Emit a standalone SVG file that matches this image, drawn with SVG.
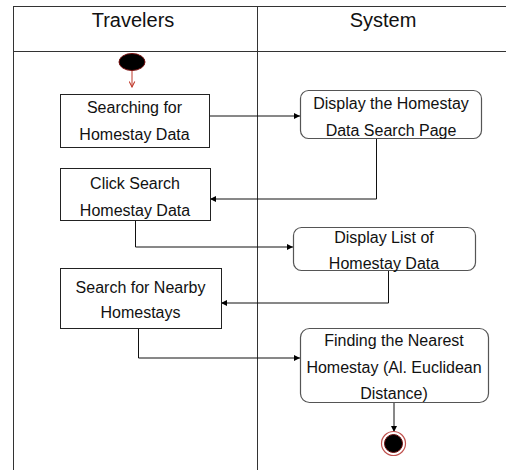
<svg xmlns="http://www.w3.org/2000/svg" width="506" height="470" viewBox="0 0 506 470">
  <defs>
    <marker id="arrow" viewBox="0 0 10 10" refX="10" refY="5" markerWidth="6" markerHeight="6" markerUnits="userSpaceOnUse" orient="auto">
      <path d="M0,0 L10,5 L0,10 z" fill="#000"/>
    </marker>
    <marker id="arrow-open" viewBox="0 0 10 10" refX="9" refY="5" markerWidth="7" markerHeight="7" markerUnits="userSpaceOnUse" orient="auto">
      <path d="M1,1 L9,5 L1,9" fill="none" stroke="#c0392b" stroke-width="1.5"/>
    </marker>
    <style>
      .lane { stroke: #333; stroke-width: 1; fill: none; }
      .head { font-family: "Liberation Sans", Arial, sans-serif; font-size: 20px; fill: #111; text-anchor: middle; }
      .label { font-family: "Liberation Sans", Arial, sans-serif; font-size: 16px; fill: #111; text-anchor: middle; }
      .act { fill: #fff; stroke: #222; stroke-width: 1; }
      .sys { fill: #fff; stroke: #555; stroke-width: 1.2; }
      .flow { fill: none; stroke: #111; stroke-width: 1; marker-end: url(#arrow); }
    </style>
  </defs>
  <rect width="506" height="470" fill="#fff"/>

  <!-- swimlanes -->
  <g id="swimlanes">
    <line class="lane" x1="13" y1="6.5" x2="506" y2="6.5"/>
    <line class="lane" x1="13" y1="51.5" x2="506" y2="51.5"/>
    <line class="lane" x1="13.5" y1="6" x2="13.5" y2="470"/>
    <line class="lane" x1="257.5" y1="6" x2="257.5" y2="470"/>
    <text class="head" x="133" y="27">Travelers</text>
    <text class="head" x="383" y="27">System</text>
  </g>

  <!-- connectors -->
  <g id="connectors">
    <line x1="132" y1="71" x2="132" y2="87" fill="none" stroke="#c0392b" stroke-width="1" marker-end="url(#arrow-open)"/>
    <polyline class="flow" points="209,116 300,116"/>
    <polyline class="flow" points="376.5,138 376.5,199 210,199"/>
    <polyline class="flow" points="135.5,220 135.5,247 293,247"/>
    <polyline class="flow" points="388.5,271 388.5,303 221,303"/>
    <polyline class="flow" points="138.5,328 138.5,358 300,358"/>
    <polyline class="flow" points="394,402 394,432"/>
  </g>

  <!-- start node -->
  <g id="start">
    <ellipse cx="132" cy="62" rx="13" ry="8.5" fill="#000" stroke="#7a1010" stroke-width="1"/>
  </g>

  <g id="searching-for-homestay-data">
    <rect class="act" x="60.5" y="94.5" width="149" height="53"/>
    <text class="label" x="134.5" y="113">Searching for</text>
    <text class="label" x="134.5" y="140">Homestay Data</text>
  </g>

  <g id="display-search-page">
    <rect class="sys" x="300.5" y="90.5" width="181" height="48" rx="8"/>
    <text class="label" x="391" y="109">Display the Homestay</text>
    <text class="label" x="391" y="136">Data Search Page</text>
  </g>

  <g id="click-search-homestay-data">
    <rect class="act" x="60.5" y="168.5" width="150" height="52"/>
    <text class="label" x="135" y="189">Click Search</text>
    <text class="label" x="135" y="216">Homestay Data</text>
  </g>

  <g id="display-list-homestay-data">
    <rect class="sys" x="293.5" y="227.5" width="182" height="43" rx="8"/>
    <text class="label" x="384" y="243">Display List of</text>
    <text class="label" x="384" y="269">Homestay Data</text>
  </g>

  <g id="search-nearby-homestays">
    <rect class="act" x="60.5" y="268.5" width="161" height="60"/>
    <text class="label" x="140.5" y="293">Search for Nearby</text>
    <text class="label" x="140.5" y="318">Homestays</text>
  </g>

  <g id="finding-nearest-homestay">
    <rect class="sys" x="300.5" y="328.5" width="188" height="74" rx="9"/>
    <text class="label" x="394" y="346">Finding the Nearest</text>
    <text class="label" x="394" y="373">Homestay (Al. Euclidean</text>
    <text class="label" x="394" y="399">Distance)</text>
  </g>

  <!-- end node -->
  <g id="end">
    <circle cx="393.5" cy="443.5" r="12" fill="#fff" stroke="#c0504d" stroke-width="1.2"/>
    <circle cx="393.5" cy="443.5" r="9" fill="#000" stroke="#6b0d0d" stroke-width="1"/>
  </g>
</svg>
